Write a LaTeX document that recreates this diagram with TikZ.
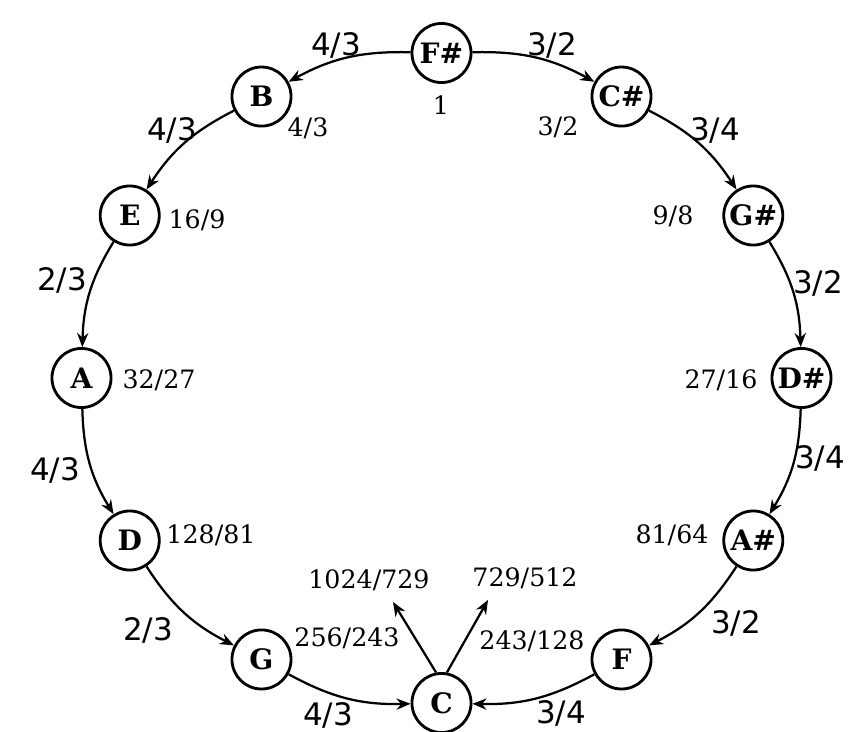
\documentclass[tikz,border=0pt]{standalone}
\usepackage{fontspec}
\setmainfont{DejaVu Serif}
\setsansfont{DejaVu Sans}
\usetikzlibrary{arrows.meta}
\begin{document}
\begin{tikzpicture}[x=0.025cm,y=-0.025cm,
  note/.style={circle,draw,line width=2pt,minimum size=42pt,inner sep=0pt,font=\fontsize{20}{22}\selectfont\bfseries},
  ratio/.style={inner sep=0pt,font=\fontsize{18}{20}\selectfont},
  interval/.style={inner sep=0pt,font=\sffamily\fontsize{22}{24}\selectfont},
  fifth/.style={line width=1.6pt,-{Stealth[length=10pt,width=8pt]}}]
\useasboundingbox (0,0) rectangle (848,731);
\foreach \name/\k/\txt in {Fs/0/F\#,Cs/1/C\#,Gs/2/G\#,Ds/3/D\#,As/4/A\#,F/5/F,C/6/C,G/7/G,D/8/D,A/9/A,E/10/E,B/11/B}
  \node[note] (\name) at ({441.5+360*sin(30*\k)},{378-325*cos(30*\k)}) {\txt};
\foreach \a/\b in {Fs/Cs,Cs/Gs,Gs/Ds,Ds/As,As/F,F/C}
  \draw[fifth] (\a) to[bend left=15] (\b);
\foreach \a/\b in {Fs/B,B/E,E/A,A/D,D/G,G/C}
  \draw[fifth] (\a) to[bend right=15] (\b);
\coordinate (up1) at (393,602);
\coordinate (up2) at (488,600);
\draw[fifth] (C.100) -- (up1);
\draw[fifth] (C.80) -- (up2);
\foreach \x/\y/\p/\q [count=\i] in {336/45/4/3,552/45/3/2,172/130/4/3,715/130/3/4,62/280/2/3,818/283/3/2,55/470/4/3,820/458/3/4,148/630/2/3,736/623/3/2,328/715/4/3,561/713/3/4}
  \node[interval] (int\i) at (\x,\y) {\p/\q};
\foreach \x/\y/\p/\q [count=\i] in {308/128/4/3,558/127/3/2,197/220/16/9,673/216/9/8,159/380/32/27,721/380/27/16,211/535/128/81,672/535/81/64,347/638/256/243,532/641/243/128,369/580/1024/729,525/578/729/512}
  \node[ratio] (rat\i) at (\x,\y) {\p/\q};
\node[ratio] (rat0) at (441,105) {1};
\end{tikzpicture}
\end{document}
